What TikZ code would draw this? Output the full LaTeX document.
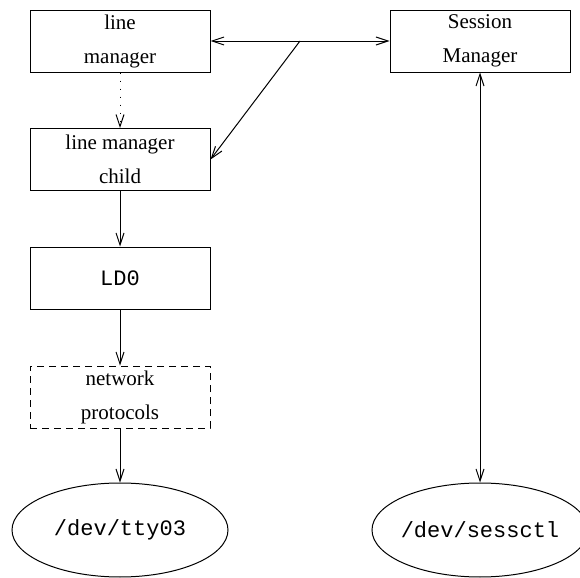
\documentclass[tikz,border=0pt]{standalone}
\usepackage{fontspec}
\setmainfont{Liberation Serif}
\setmonofont{Liberation Mono}
\usepackage{tikz}
\usetikzlibrary{shapes,arrows.meta}

\tikzset{
  box/.style={draw, minimum width=90pt, minimum height=31pt, inner sep=0pt, align=center, font=\fontsize{10.5}{17}\selectfont},
  dev/.style={draw, ellipse, minimum width=108pt, minimum height=47pt, inner sep=0pt, font=\fontsize{11}{13}\selectfont\ttfamily},
  onearrow/.style={-{Straight Barb[length=6pt,width=4pt]}},
  twoarrow/.style={{Straight Barb[length=6pt,width=4pt]}-{Straight Barb[length=6pt,width=4pt]}}
}

\begin{document}
\begin{tikzpicture}[x=0.5pt,y=-0.5pt,line width=0.5pt]
            \clip (0,0) rectangle (580,578);
            \node[box] (lm) at (120,41) {line\\manager};
            \node[box] (sm) at (480,41) {Session\\Manager};
            \node[box] (lmc) at (120,159.5) {line manager\\child};
            \node[box,font=\fontsize{11}{13}\selectfont\ttfamily] (ld) at (120,278) {LD0};
            \node[box,dashed,dash pattern=on 3.5pt off 2.5pt] (np) at (120,397) {network\\protocols};
            \node[dev] (tty) at (120,530) {\makebox[0pt]{/dev/tty03}};
            \node[dev] (sess) at (480,530) {\makebox[0pt]{/dev/sessctl}};
            \coordinate (br) at (300,41);
            \draw[onearrow] (br) -- (lm.east);
            \draw[onearrow] (br) -- (sm.west);
            \draw[onearrow] (br) -- (lmc.east);
            \draw[onearrow,dash pattern=on 0.5pt off 3.5pt] (lm.south) -- (lmc.north);
            \draw[onearrow] (lmc.south) -- (ld.north);
            \draw[onearrow] (ld.south) -- (np.north);
            \draw[onearrow] (np.south) -- (tty.north);
            \draw[twoarrow] (sm.south) -- (sess.north);
        \end{tikzpicture}
\end{document}
